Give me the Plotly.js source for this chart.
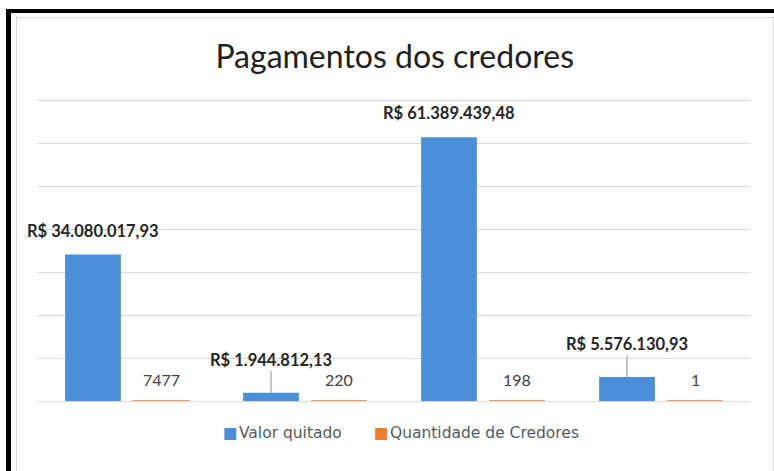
<!DOCTYPE html>
<html>
<head>
<meta charset="utf-8">
<script src="https://cdn.plot.ly/plotly-3.0.1.min.js"></script>
<style>
  body { margin: 0; background: #fff; }
  #chart { position: absolute; left: 0; top: 0; width: 774px; height: 471px; }
  .frame { position: absolute; pointer-events: none; }
</style>
</head>
<body>
<div id="chart"></div>
<!-- screenshot frame around the chart -->
<div class="frame" style="left:6px; top:9px; width:768px; height:4px; background:#000;"></div>
<div class="frame" style="left:6px; top:9px; width:5px; height:462px; background:#000;"></div>
<div class="frame" style="left:16px; top:17px; width:756px; height:454px; border-left:1px solid #d9d9d9; border-top:1px solid #d9d9d9; border-right:1px solid #d9d9d9;"></div>
<script>
const grupos = ["Grupo 1", "Grupo 2", "Grupo 3", "Grupo 4"];
const valorQuitado = [34080017.93, 1944812.13, 61389439.48, 5576130.93];
const qtdCredores = [7477, 220, 198, 1];
const nomesSeries = ["Valor quitado", "Quantidade de Credores"];

const BLUE = "#4a8fd8";
const ORANGE = "#ed7d31";
const BARGAP = 0.236;

function brl(v) {
  const parts = v.toFixed(2).split(".");
  const inteiro = parts[0].replace(/\B(?=(\d{3})+(?!\d))/g, ".");
  return "R$ " + inteiro + "," + parts[1];
}

const traces = [
  {
    type: "bar",
    name: nomesSeries[0],
    x: grupos,
    y: valorQuitado,
    marker: { color: BLUE },
    hoverinfo: "skip"
  },
  {
    type: "bar",
    name: nomesSeries[1],
    x: grupos,
    y: qtdCredores,
    marker: { color: ORANGE, line: { color: ORANGE, width: 1.5 } },
    hoverinfo: "skip"
  }
];

// each bar sits a quarter of the group width off the category centre
const shift = (1 - BARGAP) / 4;
const labelFont = { family: "Lato, sans-serif", size: 16.5, color: "#262626", weight: "bold" };
const annotations = [];
valorQuitado.forEach((v, i) => {
  // short bars get their label lifted with a leader line
  if (v < 10e6) {
    annotations.push({
      x: i - shift, y: v, text: brl(v),
      showarrow: true, arrowhead: 0, arrowwidth: 1, arrowcolor: "#8c8c8c",
      ax: 0, ay: -33, standoff: 0,
      font: labelFont
    });
  } else {
    annotations.push({
      x: i - shift, y: v, text: brl(v),
      showarrow: false, yanchor: "bottom", yshift: 12,
      font: labelFont
    });
  }
});
qtdCredores.forEach((v, i) => {
  annotations.push({
    x: i + shift, y: v, text: String(v),
    showarrow: false, yanchor: "bottom", yshift: 10,
    font: { family: "Lato, sans-serif", size: 16, color: "#404040" }
  });
});

// legend drawn as text so the swatch sits tight against its label, like Excel
const legendX = [0.257, 0.469];
[BLUE, ORANGE].forEach((c, i) => {
  annotations.push({
    xref: "paper", yref: "paper",
    x: legendX[i], y: -0.106, xanchor: "left", yanchor: "middle",
    showarrow: false,
    text: '<span style="color:' + c + '">■</span><span style="font-size:4px"> </span>' + nomesSeries[i],
    font: { family: "DejaVu Sans, sans-serif", size: 15.5, color: "#595959" }
  });
});

const layout = {
  width: 774,
  height: 471,
  margin: { l: 38, r: 24, t: 99, b: 70 },
  paper_bgcolor: "#fff",
  plot_bgcolor: "#fff",
  title: {
    text: "Pagamentos dos credores",
    font: { family: "Lato, sans-serif", size: 32, color: "#1f1f1f" },
    x: 0.51, xanchor: "center",
    yref: "container", y: 1 - 57 / 471, yanchor: "middle"
  },
  barmode: "group",
  bargap: BARGAP,
  bargroupgap: 0.18,
  xaxis: {
    range: [-0.5, 3.5],
    showticklabels: false,
    ticks: "",
    showgrid: false,
    zeroline: false,
    showline: false
  },
  yaxis: {
    range: [0, 70.3e6],
    dtick: 10e6,
    showticklabels: false,
    ticks: "",
    showgrid: true,
    gridcolor: "#d9d9d9",
    gridwidth: 1,
    zeroline: true,
    zerolinecolor: "#d9d9d9",
    zerolinewidth: 1
  },
  showlegend: false,
  annotations: annotations
};

Plotly.newPlot("chart", traces, layout, { displayModeBar: false, staticPlot: true });
</script>
</body>
</html>
